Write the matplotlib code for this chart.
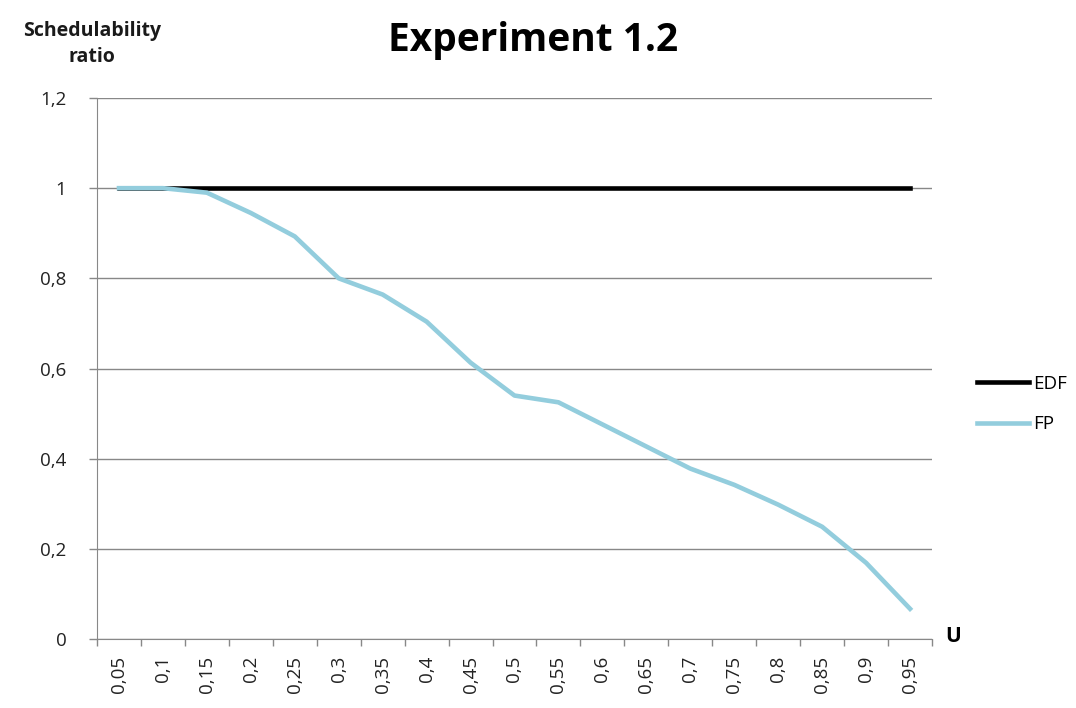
import matplotlib
matplotlib.use("Agg")
import matplotlib.pyplot as plt
import numpy as np

plt.rcParams["font.family"] = ["Open Sans", "DejaVu Sans"]

u_labels = ["0,05", "0,1", "0,15", "0,2", "0,25", "0,3", "0,35", "0,4", "0,45", "0,5",
            "0,55", "0,6", "0,65", "0,7", "0,75", "0,8", "0,85", "0,9", "0,95"]
edf = [1, 1, 1, 1, 1, 1, 1, 1, 1, 1, 1, 1, 1, 1, 1, 1, 1, 1, 1]
fp = [1.0, 1.0, 0.99, 0.945, 0.893, 0.80, 0.764, 0.704, 0.613, 0.54,
      0.525, 0.476, 0.427, 0.378, 0.342, 0.298, 0.249, 0.169, 0.067]
y_ticks = [0, 0.2, 0.4, 0.6, 0.8, 1.0, 1.2]
y_tick_labels = ["0", "0,2", "0,4", "0,6", "0,8", "1", "1,2"]

fig = plt.figure(figsize=(10.76, 7.08), dpi=100)
ax = fig.add_axes([97 / 1076, 1 - 639 / 708, 835 / 1076, 541 / 708])

x = np.arange(len(u_labels))
ln_edf, = ax.plot(x, edf, color="black", lw=3.3, label="EDF", zorder=3)
ln_fp, = ax.plot(x, fp, color="#93CDDD", lw=3.3, label="FP", zorder=4)

ax.set_xlim(-0.5, len(u_labels) - 0.5)
ax.set_ylim(0, 1.2)
ax.set_yticks(y_ticks)
ax.set_yticklabels(y_tick_labels, fontsize=13.5, color="#222222")
ax.set_xticks(x)
ax.set_xticklabels(u_labels, rotation=90, fontsize=13.5, color="#222222")
ax.set_xticks(np.arange(-0.5, len(u_labels)), minor=True)
ax.tick_params(axis="x", which="major", length=0, pad=12)
ax.tick_params(axis="x", which="minor", length=5, color="#888888", width=1)
ax.tick_params(axis="y", length=6, color="#888888", width=1, pad=16)
ax.grid(axis="y", color="#888888", lw=1)
ax.set_axisbelow(True)
for s in ["top", "right"]:
    ax.spines[s].set_visible(False)
for s in ["left", "bottom"]:
    ax.spines[s].set_color("#888888")

fig.text(92 / 1076, 1 - 44 / 708, "Schedulability\nratio", ha="center", va="center",
         fontsize=14, fontweight="bold", linespacing=1.45, color="#1a1a1a")
fig.text(533 / 1076, 1 - 40 / 708, "Experiment 1.2", ha="center", va="center",
         fontsize=28, fontweight="bold")
fig.text(953 / 1076, 1 - 636 / 708, "U", ha="center", va="center",
         fontsize=15, fontweight="bold")

fig.legend(handles=[ln_edf, ln_fp], loc="center left",
           bbox_to_anchor=(960 / 1076, 1 - 404 / 708), frameon=False,
           fontsize=13.5, handlelength=2.8, handletextpad=0.2, labelspacing=1.2)

fig.savefig("out.png", dpi=100)
